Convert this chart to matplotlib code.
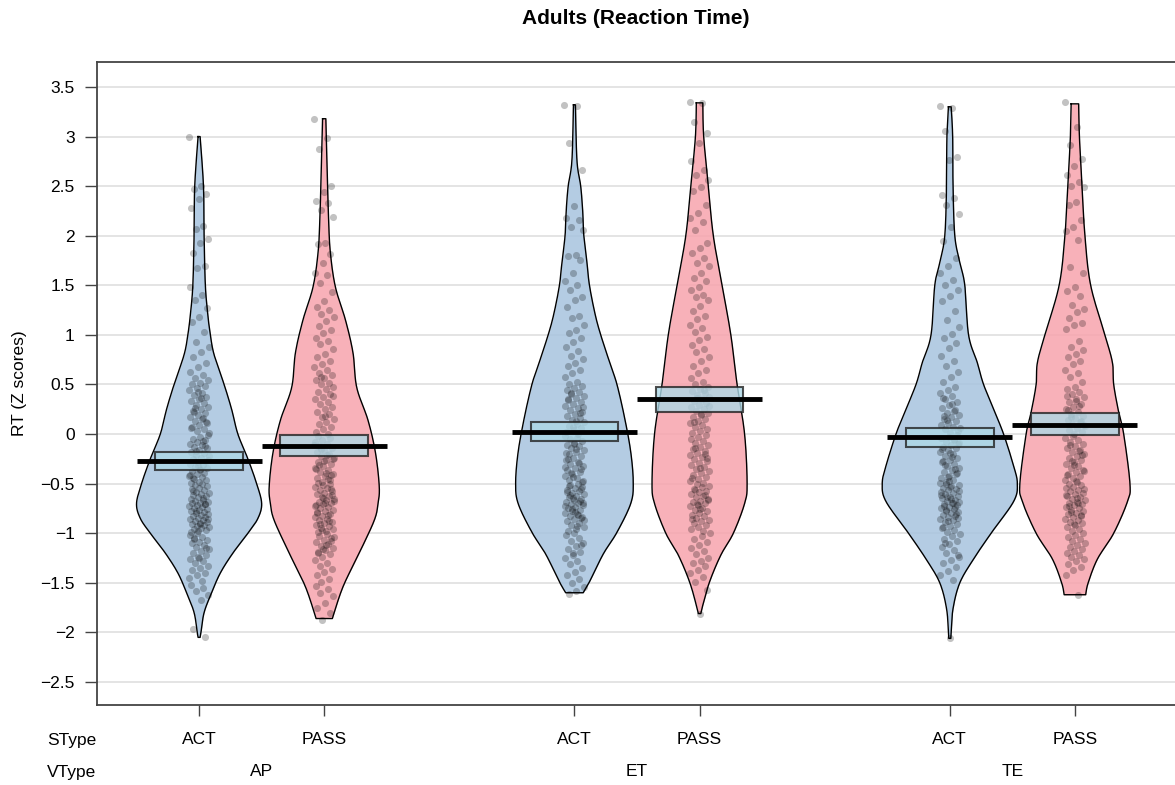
import numpy as np
import matplotlib
matplotlib.use("Agg")
import matplotlib.pyplot as plt
from matplotlib.transforms import blended_transform_factory

plt.rcParams['font.family'] = ['Liberation Sans', 'DejaVu Sans']

# groups / positions
stype = ["ACT", "PASS", "ACT", "PASS", "ACT", "PASS"]
vtype = ["AP", "ET", "TE"]
xpos = [1, 2, 4, 5, 7, 8]

# means and inference bands
means = [-0.27, -0.12, 0.024, 0.353, -0.032, 0.094]
ci_lo = [-0.363, -0.22, -0.066, 0.222, -0.133, -0.014]
ci_hi = [-0.178, -0.01, 0.125, 0.478, 0.065, 0.209]

# bean outlines: y values and half widths
ap_act_y = [3.00, 2.50, 2.00, 1.50, 1.20, 1.00, 0.80, 0.50, 0.25, 0.00, -0.25, -0.50, -0.70, -0.85, -1.00, -1.20, -1.40, -1.60, -1.80, -2.00, -2.05]
ap_act_w = [0.008, 0.035, 0.04, 0.05, 0.07, 0.09, 0.12, 0.20, 0.26, 0.31, 0.39, 0.46, 0.50, 0.47, 0.39, 0.27, 0.17, 0.10, 0.04, 0.015, 0.008]
ap_pass_y = [3.18, 2.83, 2.16, 1.82, 1.48, 1.15, 0.82, 0.47, 0.14, -0.19, -0.53, -0.70, -0.87, -1.20, -1.54, -1.86]
ap_pass_w = [0.013, 0.02, 0.035, 0.05, 0.09, 0.17, 0.23, 0.26, 0.35, 0.41, 0.44, 0.43, 0.40, 0.28, 0.15, 0.065]
et_act_y = [3.32, 2.76, 2.50, 2.25, 2.00, 1.73, 1.50, 1.21, 1.00, 0.69, 0.50, 0.17, -0.18, -0.49, -0.70, -0.99, -1.21, -1.49, -1.60]
et_act_w = [0.008, 0.02, 0.05, 0.066, 0.075, 0.10, 0.12, 0.165, 0.21, 0.29, 0.34, 0.40, 0.45, 0.47, 0.45, 0.34, 0.23, 0.12, 0.07]
et_pass_y = [3.34, 3.00, 2.50, 2.00, 1.50, 1.00, 0.50, 0.00, -0.50, -0.70, -1.00, -1.22, -1.49, -1.73, -1.81]
et_pass_w = [0.026, 0.033, 0.07, 0.11, 0.18, 0.25, 0.30, 0.36, 0.38, 0.36, 0.27, 0.17, 0.08, 0.025, 0.01]
te_act_y = [3.30, 3.00, 2.50, 2.00, 1.73, 1.50, 1.00, 0.72, 0.50, 0.22, 0.00, -0.32, -0.50, -0.68, -1.00, -1.26, -1.50, -1.76, -2.00, -2.06]
te_act_w = [0.011, 0.023, 0.026, 0.04, 0.08, 0.12, 0.15, 0.22, 0.27, 0.36, 0.43, 0.51, 0.54, 0.51, 0.33, 0.19, 0.08, 0.026, 0.011, 0.008]
te_pass_y = [3.33, 3.00, 2.50, 2.00, 1.50, 1.00, 0.72, 0.50, 0.22, 0.00, -0.50, -0.68, -1.00, -1.26, -1.50, -1.62]
te_pass_w = [0.03, 0.036, 0.057, 0.08, 0.126, 0.24, 0.30, 0.31, 0.35, 0.39, 0.44, 0.42, 0.31, 0.18, 0.106, 0.086]

# raw RT z scores (estimated from the dots)
ap_act = [3.00, 2.50, 2.47, 2.42, 2.37, 2.28, 2.10, 2.07, 1.97, 1.93, 1.83, 1.69, 1.67, 1.48, 1.40, 1.35, 1.27, 1.18, 1.13, 1.03, 0.93, 0.88, 0.83, 0.78, 0.72, 0.68, 0.63, 0.60,
          0.57, 0.55, 0.52, 0.50, 0.48, 0.46, 0.44, 0.41, 0.39, 0.37, 0.35, 0.33, 0.31, 0.29, 0.27, 0.25, 0.23, 0.21, 0.19, 0.17, 0.15, 0.13, 0.11, 0.09, 0.07, 0.05, 0.03, 0.01, 0.36, 0.22, 0.12, 0.42, 0.06, 0.16, 0.26,
          -0.01, -0.03, -0.05, -0.06, -0.08, -0.10, -0.11, -0.13, -0.14, -0.16, -0.18, -0.19, -0.21, -0.22, -0.24, -0.25, -0.27, -0.28, -0.30, -0.31, -0.33, -0.34, -0.36, -0.37, -0.39, -0.40, -0.42, -0.43, -0.45, -0.46, -0.48, -0.49, -0.07, -0.17, -0.26, -0.35, -0.44, -0.12, -0.32, -0.41,
          -0.50, -0.51, -0.52, -0.54, -0.55, -0.56, -0.58, -0.59, -0.60, -0.61, -0.62, -0.63, -0.65, -0.66, -0.67, -0.68, -0.69, -0.70, -0.71, -0.72, -0.73, -0.74, -0.75, -0.76, -0.77, -0.78, -0.79, -0.80, -0.81, -0.82, -0.83, -0.84, -0.85, -0.86, -0.87, -0.88, -0.89, -0.90, -0.91, -0.92, -0.93, -0.94, -0.95, -0.96, -0.97, -0.98, -0.99, -0.64, -0.78, -0.86, -0.91, -0.57, -0.71,
          -1.00, -1.02, -1.04, -1.05, -1.07, -1.09, -1.10, -1.12, -1.14, -1.16, -1.18, -1.20, -1.22, -1.24, -1.26, -1.28, -1.30, -1.33, -1.35, -1.37, -1.40, -1.42, -1.45, -1.48, -1.06, -1.15, -1.25,
          -1.52, -1.55, -1.58, -1.62, -1.67, -1.97, -2.05]
ap_pass = [3.18, 2.99, 2.87, 2.50, 2.44, 2.35, 2.33, 2.26, 2.19, 1.93, 1.92, 1.82, 1.73, 1.62, 1.60, 1.52, 1.43, 1.34, 1.28, 1.25, 1.21, 1.18, 1.14, 1.09, 1.05, 1.02, 0.97, 0.94, 0.91, 0.86, 0.81, 0.78, 0.74, 0.71, 0.68,
           0.65, 0.62, 0.60, 0.57, 0.55, 0.52, 0.50, 0.47, 0.45, 0.42, 0.40, 0.37, 0.35, 0.32, 0.30, 0.27, 0.25, 0.22, 0.20, 0.17, 0.15, 0.12, 0.10, 0.07, 0.05, 0.02, 0.00, 0.58, 0.38, 0.18,
           -0.02, -0.04, -0.06, -0.08, -0.10, -0.12, -0.14, -0.16, -0.18, -0.20, -0.22, -0.24, -0.26, -0.28, -0.30, -0.32, -0.34, -0.36, -0.38, -0.40, -0.42, -0.44, -0.46, -0.48, -0.11, -0.21, -0.31, -0.41, -0.27, -0.35, -0.45, -0.15, -0.25, -0.39, -0.49,
           -0.50, -0.51, -0.53, -0.54, -0.56, -0.57, -0.59, -0.60, -0.62, -0.63, -0.65, -0.66, -0.68, -0.69, -0.71, -0.72, -0.74, -0.75, -0.77, -0.78, -0.80, -0.81, -0.83, -0.84, -0.86, -0.87, -0.89, -0.90, -0.92, -0.93, -0.95, -0.96, -0.98, -0.99, -0.55, -0.64, -0.73, -0.82, -0.91, -0.61, -0.70, -0.79, -0.88, -0.97, -0.67,
           -1.01, -1.03, -1.05, -1.07, -1.09, -1.11, -1.13, -1.15, -1.17, -1.19, -1.21, -1.24, -1.27, -1.30, -1.33, -1.36, -1.39, -1.42, -1.46, -1.49, -1.04, -1.12, -1.20, -1.08, -1.16,
           -1.53, -1.56, -1.60, -1.63, -1.70, -1.75, -1.80, -1.87]
et_act = [3.32, 3.31, 2.94, 2.66, 2.30, 2.18, 2.16, 2.09, 2.06, 1.81, 1.80, 1.76, 1.62, 1.54, 1.50, 1.45, 1.38, 1.35, 1.28, 1.19, 1.17, 1.10, 1.05, 1.02, 0.97, 0.93, 0.88, 0.84, 0.79, 0.76, 0.72, 0.69, 0.65, 0.62, 0.58, 0.53,
          0.50, 0.48, 0.46, 0.44, 0.42, 0.40, 0.38, 0.36, 0.34, 0.32, 0.30, 0.28, 0.26, 0.24, 0.22, 0.20, 0.18, 0.16, 0.14, 0.12, 0.10, 0.08, 0.06, 0.04, 0.02, 0.00, 0.41, 0.27, 0.13, 0.35, 0.21, 0.07,
          -0.02, -0.04, -0.05, -0.07, -0.09, -0.11, -0.12, -0.14, -0.16, -0.18, -0.20, -0.22, -0.24, -0.26, -0.28, -0.30, -0.32, -0.34, -0.36, -0.38, -0.40, -0.42, -0.44, -0.46, -0.48, -0.10, -0.19, -0.29, -0.39, -0.47, -0.15, -0.25, -0.35, -0.43, -0.33,
          -0.50, -0.51, -0.53, -0.54, -0.56, -0.57, -0.59, -0.60, -0.62, -0.63, -0.65, -0.66, -0.68, -0.69, -0.71, -0.72, -0.74, -0.75, -0.77, -0.78, -0.80, -0.81, -0.83, -0.84, -0.86, -0.88, -0.90, -0.92, -0.94, -0.96, -0.98, -0.55, -0.64, -0.73, -0.82, -0.61, -0.70, -0.79, -0.58, -0.67, -0.76, -0.87, -0.93, -0.52, -0.85,
          -1.00, -1.02, -1.05, -1.08, -1.10, -1.13, -1.16, -1.19, -1.22, -1.25, -1.28, -1.31, -1.35, -1.39, -1.42, -1.46, -1.50, -1.54, -1.58, -1.61, -1.12, -1.20]
et_pass = [3.35, 3.34, 3.15, 3.04, 2.94, 2.75, 2.66, 2.61, 2.56, 2.49, 2.45, 2.31, 2.23, 2.18, 2.14, 2.06, 1.93, 1.88, 1.83, 1.78, 1.73, 1.69, 1.62, 1.57, 1.54, 1.48, 1.45, 1.40, 1.38, 1.35, 1.29, 1.24, 1.19, 1.16, 1.10, 1.07, 1.03, 0.98, 0.95, 0.90, 0.86, 0.83, 0.78, 0.74, 0.69, 0.65, 0.62, 0.57, 0.53,
           0.50, 0.47, 0.45, 0.43, 0.41, 0.39, 0.37, 0.35, 0.33, 0.31, 0.29, 0.27, 0.25, 0.23, 0.21, 0.19, 0.17, 0.15, 0.13, 0.11, 0.09, 0.07, 0.05, 0.03, 0.01, 0.44, 0.36, 0.28, 0.20, 0.12,
           -0.01, -0.03, -0.05, -0.07, -0.09, -0.11, -0.13, -0.15, -0.17, -0.19, -0.21, -0.23, -0.25, -0.27, -0.29, -0.31, -0.33, -0.35, -0.37, -0.39, -0.41, -0.43, -0.45, -0.47, -0.49, -0.14, -0.24, -0.34, -0.44, -0.20,
           -0.50, -0.52, -0.53, -0.55, -0.57, -0.58, -0.60, -0.62, -0.63, -0.65, -0.67, -0.68, -0.70, -0.72, -0.73, -0.75, -0.77, -0.78, -0.80, -0.82, -0.83, -0.85, -0.87, -0.88, -0.90, -0.92, -0.94, -0.96, -0.98, -0.56, -0.66, -0.76, -0.86, -0.61, -0.71,
           -1.00, -1.03, -1.06, -1.09, -1.12, -1.15, -1.18, -1.21, -1.25, -1.28, -1.30, -1.33, -1.37, -1.40, -1.44, -1.49, -1.57, -1.81]
te_act = [3.31, 3.29, 3.06, 2.79, 2.76, 2.41, 2.38, 2.31, 2.22, 2.09, 1.95, 1.78, 1.69, 1.62, 1.55, 1.50, 1.45, 1.39, 1.34, 1.24, 1.15, 1.08, 1.01, 0.97, 0.92, 0.87, 0.79, 0.74, 0.69, 0.63, 0.58, 0.53, 0.47,
          0.44, 0.41, 0.38, 0.35, 0.32, 0.29, 0.26, 0.23, 0.21, 0.19, 0.17, 0.15, 0.13, 0.11, 0.09, 0.07, 0.05, 0.03, 0.01, 0.36, 0.24, 0.14, 0.06, 0.30, 0.18,
          -0.01, -0.03, -0.04, -0.06, -0.08, -0.09, -0.11, -0.13, -0.14, -0.16, -0.18, -0.20, -0.22, -0.24, -0.26, -0.28, -0.30, -0.32, -0.34, -0.36, -0.38, -0.40, -0.42, -0.44, -0.46, -0.48, -0.10, -0.19, -0.27, -0.35, -0.43, -0.49, -0.23, -0.31, -0.39, -0.47, -0.15, -0.05,
          -0.50, -0.51, -0.52, -0.54, -0.55, -0.56, -0.58, -0.59, -0.60, -0.62, -0.63, -0.64, -0.66, -0.67, -0.68, -0.70, -0.71, -0.72, -0.74, -0.75, -0.76, -0.78, -0.79, -0.80, -0.82, -0.83, -0.84, -0.86, -0.87, -0.89, -0.91, -0.93, -0.95, -0.97, -0.99, -0.57, -0.65, -0.73, -0.81, -0.88, -0.61, -0.69, -0.77, -0.85, -0.53, -0.94, -0.74, -0.63,
          -1.01, -1.03, -1.06, -1.08, -1.11, -1.14, -1.17, -1.20, -1.24, -1.27, -1.30, -1.34, -1.38, -1.42, -1.47, -1.10, -1.22, -2.06]
te_pass = [3.35, 3.10, 2.92, 2.77, 2.70, 2.61, 2.54, 2.50, 2.49, 2.34, 2.31, 2.16, 2.09, 2.05, 1.96, 1.68, 1.62, 1.48, 1.44, 1.39, 1.30, 1.26, 1.23, 1.17, 1.12, 1.10, 1.06, 0.94, 0.88, 0.85, 0.81, 0.78, 0.74, 0.71, 0.65, 0.62, 0.58, 0.53, 0.47,
           0.45, 0.42, 0.40, 0.37, 0.35, 0.32, 0.30, 0.27, 0.25, 0.22, 0.20, 0.18, 0.16, 0.14, 0.12, 0.10, 0.08, 0.06, 0.04, 0.02, 0.00, 0.38, 0.28, 0.17, 0.09, 0.33, 0.24, 0.13,
           -0.02, -0.04, -0.06, -0.08, -0.10, -0.12, -0.14, -0.16, -0.18, -0.20, -0.22, -0.24, -0.26, -0.28, -0.30, -0.32, -0.34, -0.36, -0.38, -0.40, -0.42, -0.44, -0.46, -0.48, -0.11, -0.21, -0.31, -0.41, -0.17, -0.27, -0.37, -0.47,
           -0.50, -0.51, -0.53, -0.54, -0.56, -0.57, -0.59, -0.60, -0.62, -0.63, -0.65, -0.66, -0.68, -0.69, -0.71, -0.72, -0.74, -0.75, -0.77, -0.78, -0.80, -0.81, -0.83, -0.84, -0.86, -0.87, -0.89, -0.90, -0.92, -0.94, -0.96, -0.98, -0.55, -0.64, -0.73, -0.82, -0.91, -0.61, -0.70, -0.79,
           -1.00, -1.02, -1.04, -1.06, -1.08, -1.10, -1.12, -1.14, -1.16, -1.18, -1.20, -1.22, -1.24, -1.26, -1.28, -1.31, -1.34, -1.37, -1.42, -1.62]

bean_y = [ap_act_y, ap_pass_y, et_act_y, et_pass_y, te_act_y, te_pass_y]
bean_w = [ap_act_w, ap_pass_w, et_act_w, et_pass_w, te_act_w, te_pass_w]
raw = [ap_act, ap_pass, et_act, et_pass, te_act, te_pass]
fills = ["#A7C4DF", "#F7A4AD"]


def smooth_outline(y, w, n=16):
    # Catmull-Rom through the outline points so the bean edge is curved
    p = np.column_stack([w, y])
    p = np.vstack([p[0], p, p[-1]])
    t = np.linspace(0, 1, n, endpoint=False)[:, None]
    segs = []
    for i in range(1, len(p) - 2):
        p0, p1, p2, p3 = p[i - 1], p[i], p[i + 1], p[i + 2]
        segs.append(0.5 * (2 * p1 + (p2 - p0) * t + (2 * p0 - 5 * p1 + 4 * p2 - p3) * t ** 2
                           + (3 * p1 - p0 - 3 * p2 + p3) * t ** 3))
    segs.append(p[-2][None])
    out = np.vstack(segs)
    return out[:, 1], np.clip(out[:, 0], 0.004, None)


fig = plt.figure(figsize=(11.75, 7.85), dpi=100)
ax = fig.add_axes([97 / 1175, 80 / 785, 1078 / 1175, 643 / 785])
ax.set_xlim(0.184, 8.8)
ax.set_ylim(-2.732, 3.752)

yt = np.arange(-2.5, 3.51, 0.5)
ax.set_yticks(yt)
ax.set_yticklabels([f"{v:g}".replace("-", "\u2212") for v in yt], fontsize=12.5)
for v in yt:
    ax.axhline(v, color="#DCDCDC", lw=1.1, zorder=0)
ax.tick_params(axis="y", length=9, width=1, color="#444444", pad=7)
ax.set_xticks(xpos)
ax.set_xticklabels([])
ax.tick_params(axis="x", length=8, width=1, color="#444444")
for side in ["left", "top", "bottom"]:
    ax.spines[side].set_color("#444444")
    ax.spines[side].set_linewidth(1.3)
ax.spines["right"].set_visible(False)

jit = 0.08
for i, x in enumerate(xpos):
    yy, ww = smooth_outline(bean_y[i], bean_w[i])
    ax.fill_betweenx(yy, x - ww, x + ww, color=fills[i % 2], alpha=0.85, lw=0, zorder=1)
    ax.plot(np.r_[x - ww, (x + ww)[::-1], x - ww[0]], np.r_[yy, yy[::-1], yy[0]],
            color="black", lw=1.0, zorder=2)
    vals = np.array(raw[i])
    off = ((np.arange(len(vals)) * 0.618034) % 1 - 0.5) * 2 * jit
    ax.scatter(x + off, vals, s=26, color="black", alpha=0.24, linewidths=0, zorder=3)
    ax.add_patch(plt.Rectangle((x - 0.35, ci_lo[i]), 0.7, ci_hi[i] - ci_lo[i],
                               facecolor="#ADD8E6", alpha=0.8, edgecolor="#222222", lw=1.5, zorder=4))
    ax.plot([x - 0.5, x + 0.5], [means[i], means[i]], color="black", lw=3.5,
            solid_capstyle="butt", zorder=5)

trans = blended_transform_factory(ax.transData, fig.transFigure)
for x, s in zip(xpos, stype):
    ax.text(x, 45 / 785, s, transform=trans, ha="center", va="center", fontsize=12.5)
for k, g in enumerate(vtype):
    ax.text((xpos[2 * k] + xpos[2 * k + 1]) / 2, 13 / 785, g, transform=trans,
            ha="center", va="center", fontsize=12.5)
fig.text(72 / 1175, 45 / 785, "SType", ha="center", va="center", fontsize=12.5)
fig.text(72 / 1175, 13 / 785, "VType", ha="center", va="center", fontsize=12.5)
fig.text(20 / 1175, (785 - 383.5) / 785, "RT (Z scores)", rotation=90,
         ha="center", va="center", fontsize=12.5)
fig.text(636 / 1175, (785 - 18) / 785, "Adults (Reaction Time)", ha="center",
         va="center", fontsize=15, fontweight="bold")

fig.savefig("out.png", dpi=100)
